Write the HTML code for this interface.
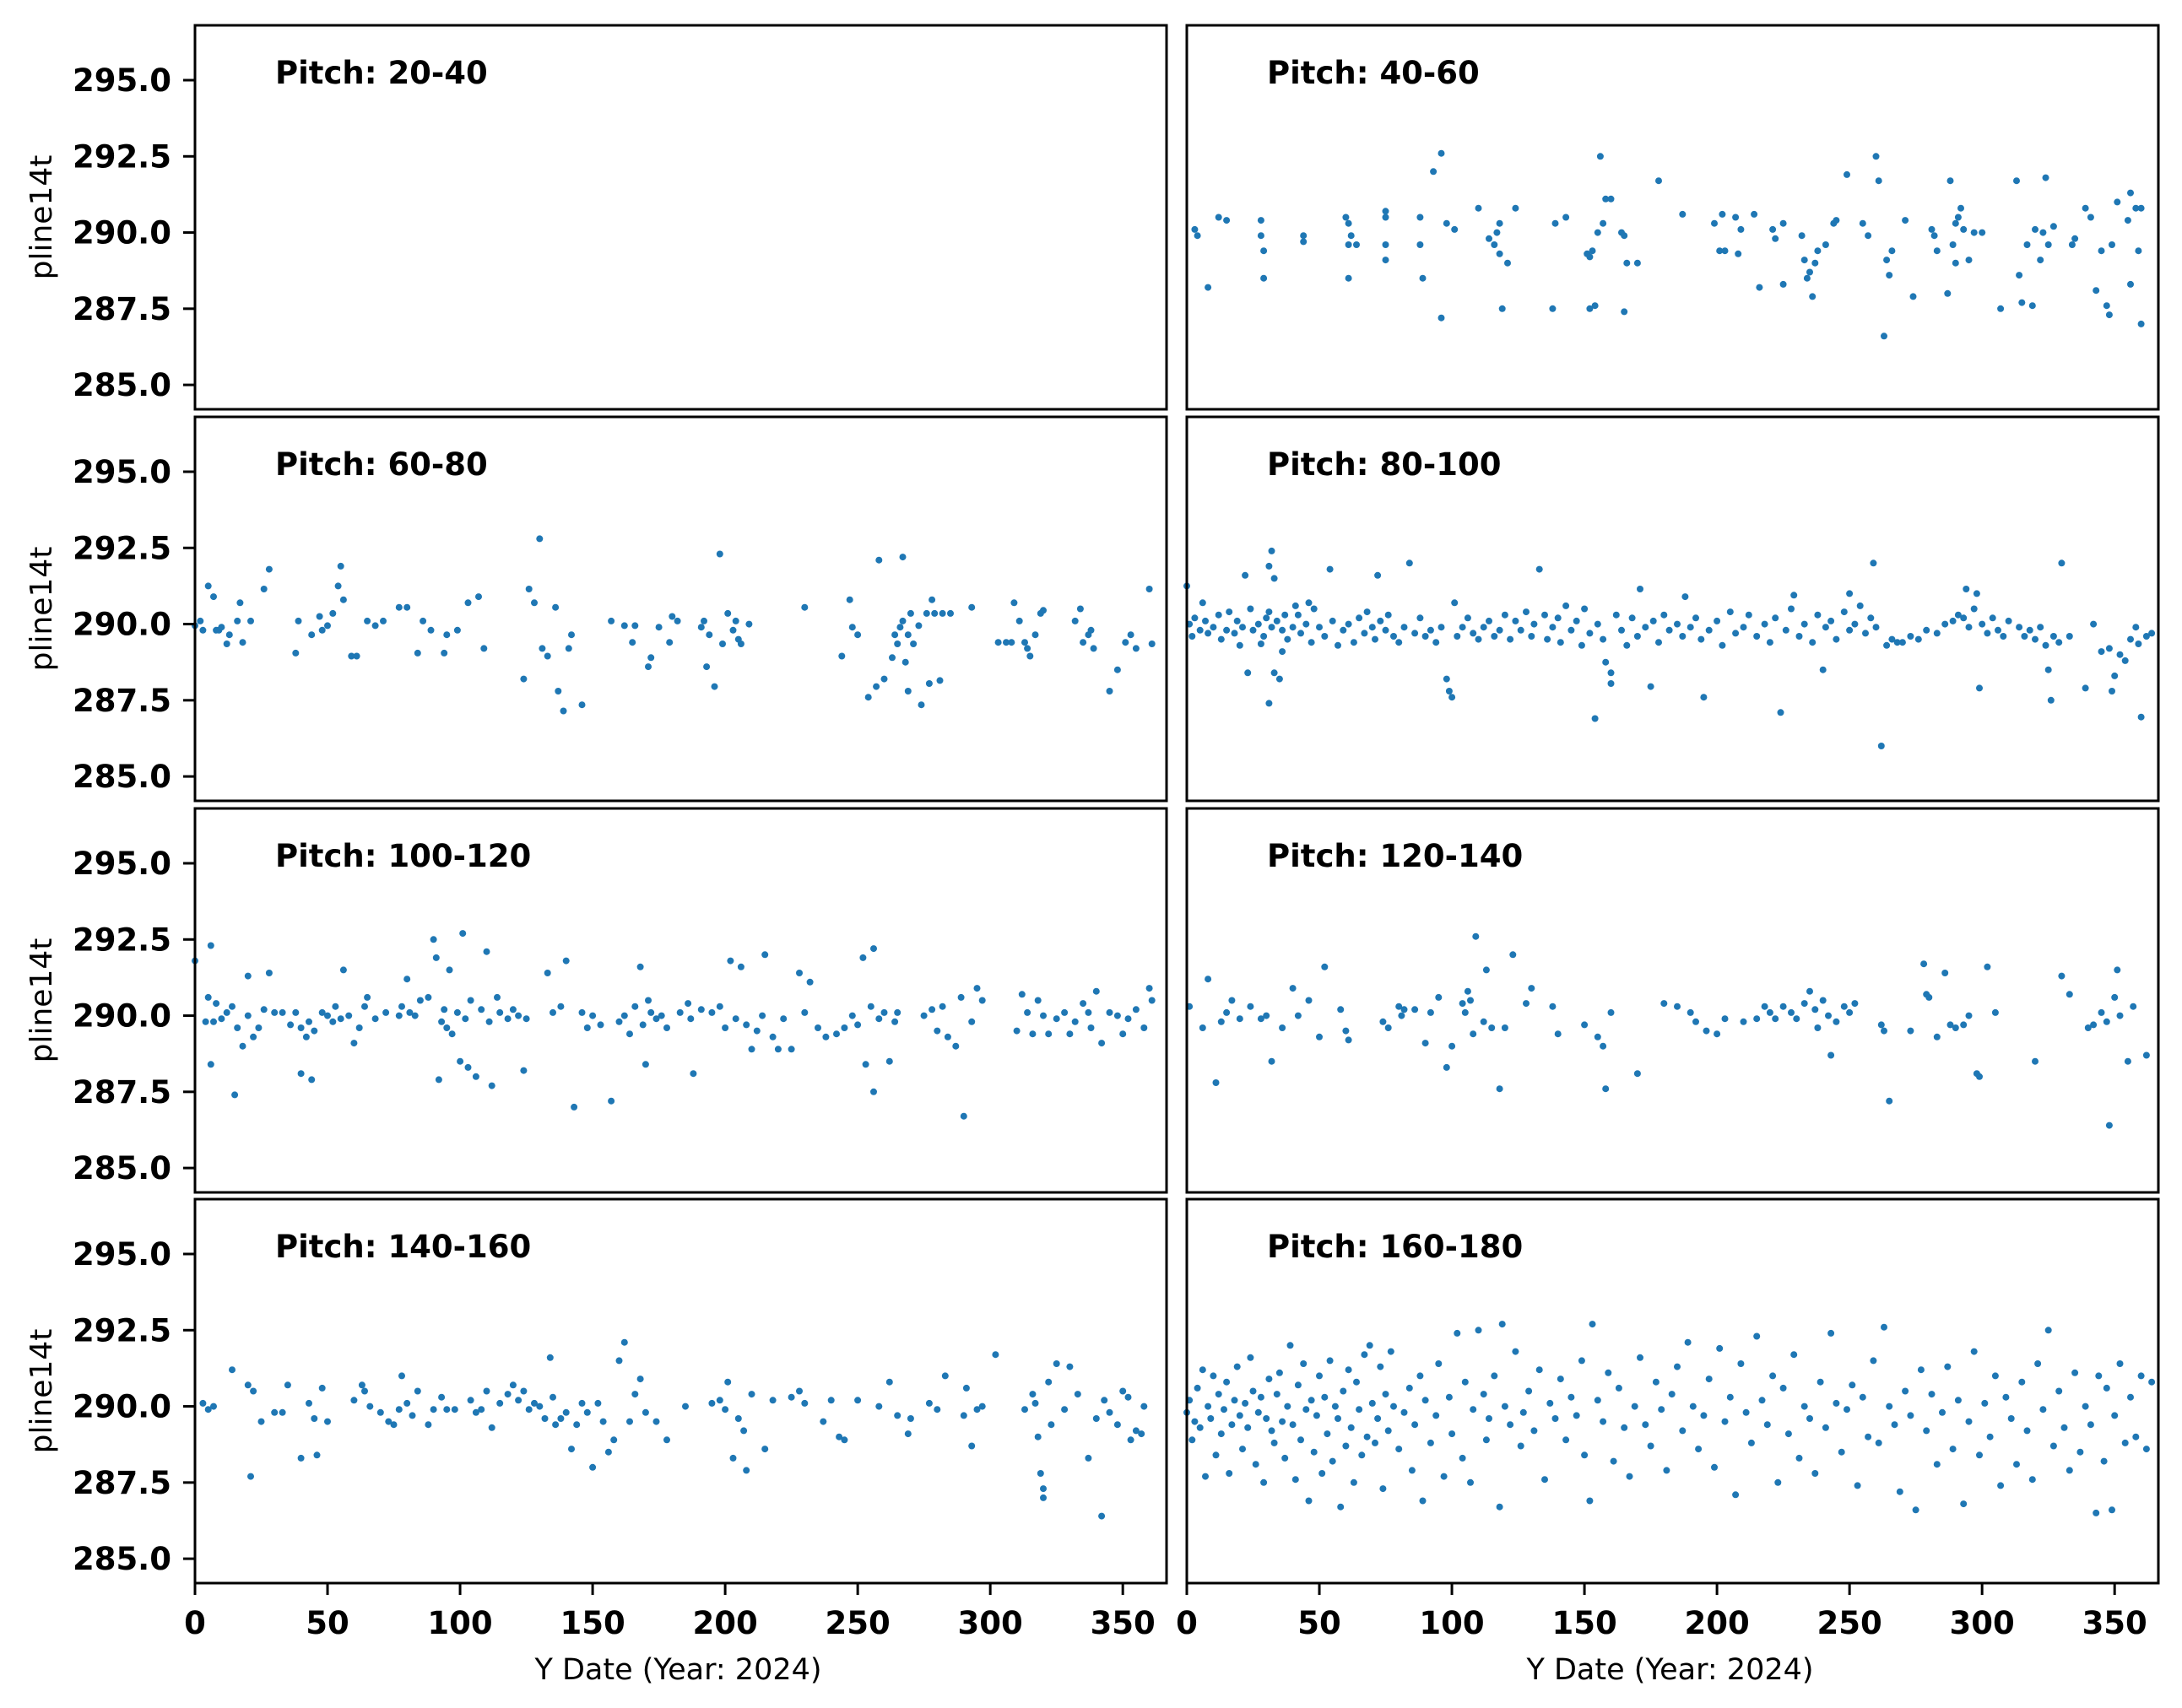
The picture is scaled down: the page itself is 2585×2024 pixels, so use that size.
<!DOCTYPE html>
<html><head><meta charset="utf-8">
<style>
html,body{margin:0;padding:0;background:#fff;}
svg{display:block;font-family:"DejaVu Sans","Liberation Sans",sans-serif;}
</style></head>
<body>
<svg id="chart" width="2585" height="2024" viewBox="0 0 2585 2024" xmlns="http://www.w3.org/2000/svg"></svg>
<script>
const panelTitles = ["Pitch: 20-40","Pitch: 40-60","Pitch: 60-80","Pitch: 80-100","Pitch: 100-120","Pitch: 120-140","Pitch: 140-160","Pitch: 160-180"];
const yTicks = [285.0, 287.5, 290.0, 292.5, 295.0];
const yTickLabels = ["285.0","287.5","290.0","292.5","295.0"];
const xTicks = [0,50,100,150,200,250,300,350];
const xTickLabels = ["0","50","100","150","200","250","300","350"];
const xDomain = [0, 366.5];
const yDomain = [284.2, 296.8];

const pts_20_40 = [];
const pts_40_60 = [[3,290.1],[4,289.9],[8,288.2],[12,290.5],[15,290.4],[28,290.4],[28,289.9],[29,289.4],[29,288.5],[44,289.9],[44,289.7],[60,290.5],[61,290.3],[61,289.6],[61,288.5],[62,289.9],[64,289.6],[75,290.7],[75,290.5],[75,289.6],[75,289.1],[88,290.5],[88,289.6],[89,288.5],[93,292.0],[96,292.6],[96,287.2],[98,290.3],[101,290.1],[110,290.8],[114,289.8],[116,289.6],[117,290.0],[118,290.3],[118,289.3],[119,287.5],[121,289.0],[124,290.8],[138,287.5],[139,290.3],[143,290.5],[151,289.3],[152,289.2],[153,289.4],[152,287.5],[154,287.6],[155,290.0],[156,292.5],[157,290.3],[158,291.1],[160,291.1],[164,290.0],[165,289.9],[165,287.4],[166,289.0],[170,289.0],[178,291.7],[187,290.6],[199,290.3],[201,289.4],[202,290.6],[203,289.4],[207,290.5],[208,289.3],[209,290.1],[214,290.6],[216,288.2],[221,290.1],[222,289.8],[225,290.3],[225,288.3],[232,289.9],[233,289.1],[234,288.5],[235,288.7],[236,287.9],[237,289.0],[238,289.4],[241,289.6],[244,290.3],[245,290.4],[249,291.9],[255,290.3],[257,289.9],[260,292.5],[261,291.7],[263,286.6],[264,289.1],[265,288.6],[266,289.4],[271,290.4],[274,287.9],[281,290.1],[282,289.9],[283,289.4],[287,288.0],[288,291.7],[289,289.6],[290,290.3],[290,289.0],[291,290.5],[292,290.8],[293,290.1],[295,289.1],[297,290.0],[300,290.0],[307,287.5],[313,291.7],[314,288.6],[315,287.7],[317,289.6],[319,287.6],[320,290.1],[322,289.1],[323,290.0],[324,291.8],[325,289.6],[327,290.2],[334,289.6],[335,289.8],[339,290.8],[341,290.5],[343,288.1],[345,289.4],[347,287.6],[348,287.3],[349,289.6],[351,291.0],[355,290.4],[356,291.3],[356,288.3],[358,290.8],[359,289.4],[360,287.0],[360,290.8]];
const pts_60_80 = [[0,289.95],[2,290.1],[3,289.8],[5,291.25],[7,290.9],[8,289.8],[9,289.8],[10,289.9],[12,289.35],[13,289.65],[16,290.1],[17,290.7],[18,289.4],[21,290.1],[26,291.15],[28,291.8],[38,289.05],[39,290.1],[44,289.65],[47,290.25],[48,289.8],[50,289.95],[52,290.35],[54,291.25],[55,291.9],[56,290.8],[59,288.95],[61,288.95],[65,290.1],[68,289.95],[71,290.1],[77,290.55],[80,290.55],[84,289.05],[86,290.1],[89,289.8],[94,289.05],[95,289.65],[99,289.8],[103,290.7],[107,290.9],[109,289.2],[124,288.2],[126,291.15],[128,290.7],[130,292.8],[131,289.2],[133,288.95],[136,290.55],[137,287.8],[139,287.15],[141,289.2],[142,289.65],[146,287.35],[157,290.1],[162,289.95],[165,289.4],[166,289.95],[171,288.6],[172,288.9],[175,289.9],[179,289.4],[180,290.25],[182,290.1],[191,289.9],[192,290.1],[193,288.6],[194,289.65],[196,287.95],[198,292.3],[199,289.35],[201,290.35],[203,289.8],[204,290.1],[205,289.5],[206,289.35],[209,290.0],[230,290.55],[244,288.95],[247,290.8],[248,289.9],[250,289.65],[254,287.6],[258,292.1],[257,287.95],[260,288.2],[263,288.9],[264,289.65],[265,289.35],[266,289.9],[267,290.1],[267,292.2],[268,288.75],[269,287.8],[269,289.65],[270,290.35],[271,289.35],[273,289.95],[274,287.35],[276,290.35],[277,288.05],[278,290.8],[279,290.35],[281,288.15],[282,290.35],[285,290.35],[293,290.55],[303,289.4],[306,289.4],[308,289.4],[309,290.7],[311,290.1],[313,289.4],[314,289.2],[315,288.95],[317,289.65],[319,290.35],[320,290.45],[332,290.1],[334,290.5],[335,289.4],[337,289.65],[338,289.8],[339,289.2],[345,287.8],[348,288.5],[351,289.4],[353,289.65],[355,289.2],[360,291.15],[361,289.35]];
const pts_80_100 = [[0,291.25],[6,290.7],[22,291.6],[23,288.4],[28,289.35],[31,291.9],[31,287.4],[32,292.4],[33,291.5],[33,288.4],[35,288.2],[36,289.1],[42,290.3],[46,290.7],[54,291.8],[72,291.6],[84,292.0],[98,288.2],[99,287.8],[100,287.6],[101,290.7],[133,291.8],[158,288.75],[160,288.4],[160,288.05],[154,286.9],[171,291.15],[175,287.95],[188,290.9],[195,287.6],[224,287.1],[229,290.95],[240,288.5],[250,291.0],[259,292.0],[262,286.0],[268,289.4],[294,291.15],[299,287.9],[298,291.0],[325,288.5],[326,287.5],[330,292.0],[339,287.9],[349,287.8],[350,288.3],[360,286.95],[354,288.8],[358,289.9],[364,289.7],[359,289.35],
[1,290.0],[2,289.6],[3,290.2],[5,289.8],[7,290.1],[8,289.7],[10,289.9],[12,290.3],[13,289.5],[15,289.8],[16,290.4],[18,289.7],[19,290.1],[20,289.3],[21,289.9],[24,290.5],[25,289.8],[27,290.0],[29,289.6],[30,290.2],[31,290.4],[32,289.9],[34,290.1],[36,289.8],[37,290.3],[38,289.5],[40,289.9],[41,290.6],[43,289.7],[45,290.0],[47,289.4],[48,290.5],[50,289.9],[52,289.6],[55,290.1],[57,289.3],[59,289.8],[61,290.0],[63,289.4],[65,290.2],[67,289.7],[68,290.4],[70,289.9],[71,289.5],[73,290.1],[75,289.8],[76,290.3],[78,289.6],[80,289.4],[82,289.9],[86,289.7],[88,290.2],[90,289.6],[92,289.8],[94,289.4],[96,289.9],[102,289.6],[104,289.9],[106,290.2],[108,289.7],[110,289.5],[112,289.9],[114,290.1],[116,289.6],[118,289.8],[120,290.3],[122,289.5],[124,290.1],[126,289.8],[128,290.4],[130,289.6],[131,290.0],[135,290.3],[136,289.5],[138,289.9],[140,290.2],[141,289.4],[143,290.6],[145,289.8],[147,290.1],[149,289.3],[150,290.5],[152,289.7],[155,290.0],[157,289.5],[162,290.3],[164,289.8],[166,289.3],[168,290.2],[170,289.6],[173,289.9],[176,290.1],[178,289.4],[180,290.3],[182,289.8],[185,290.0],[187,289.6],[190,289.9],[192,290.2],[194,289.5],[197,289.8],[200,290.1],[202,289.3],[205,290.4],[207,289.7],[210,289.9],[212,290.3],[215,289.6],[218,290.0],[220,289.4],[222,290.2],[226,289.8],[228,290.5],[231,289.6],[233,290.0],[236,289.4],[238,290.3],[241,289.9],[243,290.1],[245,289.5],[248,290.4],[250,289.8],[252,290.0],[254,290.6],[256,289.7],[258,290.2],[260,289.9],[264,289.3],[266,289.5],[270,289.4],[273,289.6],[276,289.5],[279,289.8],[283,289.7],[286,290.0],[289,290.1],[291,290.3],[293,290.2],[295,289.9],[297,290.5],[300,290.0],[302,289.7],[304,290.2],[306,289.8],[308,289.6],[310,290.1],[314,289.9],[316,289.6],[318,289.8],[320,289.5],[322,289.9],[324,289.3],[327,289.6],[329,289.4],[333,289.6],[342,290.0],[345,289.1],[348,289.2],[352,289.0],[356,289.5],[362,289.6]];
const pts_100_120 = [[0,291.8],[4,289.8],[5,290.6],[6,292.3],[6,288.4],[7,289.8],[8,290.4],[10,289.9],[12,290.1],[14,290.3],[15,287.4],[16,289.6],[18,289.0],[20,290.0],[20,291.3],[22,289.3],[24,289.6],[26,290.2],[28,291.4],[30,290.1],[33,290.1],[36,289.7],[38,290.1],[40,289.6],[40,288.1],[42,289.3],[43,289.8],[44,287.9],[45,289.5],[48,290.1],[50,290.0],[52,289.8],[53,290.3],[55,289.9],[56,291.5],[58,290.0],[60,289.1],[62,289.6],[64,290.3],[65,290.6],[68,289.9],[72,290.1],[77,290.0],[78,290.3],[80,291.2],[81,290.1],[83,290.0],[85,290.5],[88,290.6],[90,292.5],[91,291.9],[92,287.9],[93,289.8],[94,290.2],[95,289.6],[96,291.5],[97,289.4],[99,290.1],[100,288.5],[101,292.7],[102,289.9],[103,288.3],[104,290.5],[106,288.0],[108,290.2],[110,292.1],[111,289.8],[112,287.7],[114,290.6],[115,290.1],[118,289.9],[120,290.2],[122,290.0],[124,288.2],[125,289.9],[133,291.4],[135,290.1],[138,290.3],[140,291.8],[143,287.0],[146,290.1],[148,289.6],[150,290.0],[153,289.7],[157,287.2],[160,289.8],[162,290.0],[164,289.4],[166,290.3],[168,291.6],[169,289.7],[170,288.4],[171,290.5],[172,290.1],[174,289.9],[176,290.0],[178,289.6],[183,290.1],[186,290.4],[187,289.9],[188,288.1],[191,290.2],[195,290.1],[198,290.3],[200,289.6],[202,291.8],[204,289.9],[206,291.6],[208,289.7],[210,288.9],[212,289.5],[214,290.0],[215,292.0],[218,289.3],[220,288.9],[222,289.9],[225,288.9],[228,291.4],[230,290.1],[232,291.1],[235,289.6],[238,289.3],[242,289.4],[245,289.6],[248,290.0],[250,289.7],[252,291.9],[253,288.4],[255,290.3],[256,292.2],[256,287.5],[258,289.9],[260,290.1],[262,288.5],[264,289.8],[265,290.1],[275,290.0],[278,290.2],[280,289.5],[282,290.3],[284,289.3],[287,289.0],[289,290.6],[290,286.7],[293,289.8],[295,290.9],[297,290.5],[310,289.5],[312,290.7],[314,290.1],[316,289.4],[318,290.5],[320,290.0],[322,289.4],[325,289.9],[328,290.1],[330,289.4],[332,289.8],[335,290.4],[337,290.1],[338,289.6],[340,290.8],[342,289.1],[345,290.1],[348,290.0],[350,289.4],[352,289.9],[355,290.2],[358,289.6],[360,290.9],[361,290.5]];
const pts_120_140 = [[1,290.3],[6,289.6],[8,291.2],[11,287.8],[13,289.8],[15,290.1],[17,290.5],[20,289.9],[24,290.3],[28,289.9],[30,290.0],[32,288.5],[36,289.6],[40,290.9],[42,290.0],[46,290.5],[50,289.3],[52,291.6],[58,290.2],[60,289.5],[61,289.2],[74,289.8],[76,289.6],[80,290.3],[81,290.0],[82,290.2],[86,290.2],[90,289.1],[92,290.1],[95,290.6],[98,288.3],[100,289.0],[104,290.4],[105,290.1],[106,290.8],[107,290.5],[108,289.4],[109,292.6],[112,289.8],[113,291.5],[115,289.6],[118,287.6],[120,289.6],[123,292.0],[128,290.4],[130,290.9],[138,290.3],[140,289.4],[150,289.7],[155,289.3],[157,289.0],[158,287.6],[160,290.1],[170,288.1],[180,290.4],[185,290.3],[190,290.1],[192,289.8],[196,289.5],[200,289.4],[203,289.9],[210,289.8],[215,289.9],[218,290.3],[220,290.1],[222,289.9],[225,290.3],[228,290.1],[230,289.9],[233,290.4],[235,290.8],[237,290.2],[238,289.6],[240,290.5],[242,290.0],[243,288.7],[245,289.8],[248,290.3],[250,290.1],[252,290.4],[262,289.7],[263,289.5],[265,287.2],[273,289.5],[278,291.7],[279,290.7],[280,290.6],[283,289.3],[286,291.4],[288,289.7],[290,289.6],[293,289.7],[295,290.0],[298,288.1],[299,288.0],[302,291.6],[305,290.1],[320,288.5],[330,291.3],[333,290.7],[340,289.6],[342,289.7],[345,290.1],[347,289.8],[348,286.4],[350,290.6],[351,291.5],[352,290.0],[355,288.5],[357,290.3],[362,288.7]];
const pts_140_160 = [[3,290.1],[5,289.9],[7,290.0],[14,291.2],[20,290.7],[21,287.7],[22,290.5],[25,289.5],[30,289.8],[33,289.8],[35,290.7],[40,288.3],[43,290.1],[45,289.6],[46,288.4],[48,290.6],[50,289.5],[60,290.2],[63,290.7],[64,290.5],[66,290.0],[70,289.8],[73,289.5],[75,289.4],[77,289.9],[78,291.0],[80,290.1],[82,289.7],[84,290.5],[88,289.4],[90,289.9],[93,290.3],[95,289.9],[98,289.9],[104,290.2],[106,289.8],[108,289.9],[110,290.5],[112,289.3],[115,290.1],[118,290.4],[120,290.7],[122,290.2],[124,290.5],[126,289.9],[128,290.1],[130,290.0],[132,289.6],[134,291.6],[135,290.3],[136,289.4],[138,289.6],[140,289.8],[142,288.6],[144,289.4],[146,290.1],[148,289.8],[150,288.0],[152,290.1],[154,289.5],[156,288.5],[158,288.9],[160,291.5],[162,292.1],[164,289.5],[166,290.4],[168,290.9],[170,289.8],[174,289.5],[178,288.9],[185,290.0],[195,290.1],[198,290.2],[200,289.9],[201,290.8],[203,288.3],[205,289.6],[207,289.2],[208,287.9],[210,290.4],[215,288.6],[218,290.2],[225,290.3],[228,290.5],[230,290.1],[237,289.5],[240,290.2],[243,289.0],[245,288.9],[250,290.2],[258,290.0],[262,290.8],[265,289.7],[269,289.1],[270,289.6],[277,290.1],[280,289.9],[283,291.0],[290,289.7],[291,290.6],[293,288.7],[295,289.9],[297,290.0],[302,291.7],[313,289.9],[316,290.4],[317,290.1],[318,289.0],[319,287.8],[320,287.3],[320,287.0],[322,290.8],[323,289.4],[325,291.4],[328,289.9],[330,291.3],[333,290.4],[337,288.3],[340,289.6],[342,286.4],[343,290.2],[345,289.8],[348,289.4],[350,290.5],[352,290.3],[353,288.9],[355,289.2],[357,289.1],[358,290.0]];
const pts_160_180 = [[0,289.8],[1,290.2],[2,288.9],[3,289.5],[4,290.6],[5,289.3],[6,291.2],[7,287.7],[8,290.0],[9,289.6],[10,291.0],[11,288.4],[12,290.4],[13,289.1],[14,289.9],[15,290.8],[16,287.8],[17,289.4],[18,290.2],[19,291.3],[20,289.7],[21,288.6],[22,290.1],[23,289.3],[24,291.6],[25,290.5],[26,288.1],[27,289.8],[28,290.3],[29,287.5],[30,289.6],[31,290.9],[32,289.2],[33,288.8],[34,290.4],[35,291.1],[36,289.5],[37,288.3],[38,290.0],[39,292.0],[40,289.4],[41,287.6],[42,290.7],[43,288.9],[44,291.4],[45,289.9],[46,286.9],[47,290.2],[48,288.5],[49,289.7],[50,291.0],[51,287.8],[52,290.3],[53,289.1],[54,291.5],[55,288.2],[56,290.0],[57,289.6],[58,286.7],[59,290.5],[60,288.7],[61,291.2],[62,289.3],[63,287.5],[64,290.8],[65,289.9],[66,288.4],[67,291.7],[68,289.0],[69,292.0],[70,290.1],[71,288.8],[72,289.6],[73,291.3],[74,287.3],[75,290.4],[76,289.2],[77,291.8],[78,290.0],[80,288.6],[82,289.8],[84,290.6],[85,287.9],[86,289.4],[88,291.0],[89,286.9],[90,290.2],[92,288.8],[94,289.7],[95,291.4],[97,287.7],[99,290.3],[100,289.1],[102,292.4],[104,288.3],[105,290.8],[107,287.5],[108,289.9],[110,292.5],[112,290.4],[113,288.9],[114,289.6],[116,291.0],[118,286.7],[119,292.7],[120,290.0],[122,289.4],[124,291.8],[126,288.7],[127,289.8],[129,290.5],[131,289.2],[133,291.2],[135,287.6],[137,290.1],[139,289.6],[141,290.9],[143,288.9],[145,290.3],[147,289.7],[149,291.5],[150,288.4],[152,286.9],[153,292.7],[155,290.2],[157,289.5],[159,291.1],[161,288.2],[163,290.6],[165,289.3],[167,287.7],[169,290.0],[171,291.6],[173,289.4],[175,288.7],[177,290.8],[179,289.9],[181,287.9],[183,290.4],[185,291.3],[187,289.2],[189,292.1],[191,290.0],[193,288.6],[195,289.7],[197,290.9],[199,288.0],[201,291.9],[203,289.5],[205,290.3],[207,287.1],[209,291.4],[211,289.8],[213,288.8],[215,292.3],[217,290.2],[219,289.4],[221,291.0],[223,287.5],[225,290.6],[227,289.1],[229,291.7],[231,288.3],[233,290.0],[235,289.6],[237,287.8],[239,290.8],[241,289.3],[243,292.4],[245,290.1],[247,288.5],[249,289.9],[251,290.7],[253,287.4],[255,290.3],[257,289.0],[259,291.5],[261,288.8],[263,292.6],[265,290.0],[267,289.4],[269,287.2],[271,290.5],[273,289.7],[275,286.6],[277,291.2],[279,289.2],[281,290.4],[283,288.1],[285,289.8],[287,291.3],[289,288.6],[291,290.2],[293,286.8],[295,289.5],[297,291.8],[299,288.4],[301,290.1],[303,289.0],[305,291.0],[307,287.4],[309,290.3],[311,289.6],[313,288.1],[315,290.8],[317,289.2],[319,287.6],[321,291.4],[323,289.9],[325,292.5],[327,288.7],[329,290.5],[331,289.3],[333,287.9],[335,291.1],[337,288.5],[339,290.0],[341,289.4],[343,286.5],[344,291.0],[346,288.2],[347,290.6],[349,286.6],[350,289.7],[352,291.4],[354,288.8],[356,290.3],[358,289.0],[360,291.0],[362,288.6],[364,290.8]];
const panelData = [pts_20_40, pts_40_60, pts_60_80, pts_80_100, pts_100_120, pts_120_140, pts_140_160, pts_160_180];

const NS = "http://www.w3.org/2000/svg";
const svg = document.getElementById("chart");
const colLeft = [231, 1406], panelW = 1151;
const rowTop = [30, 494, 958, 1421], panelH = 455;
function mk(tag, attrs, parent){ const e=document.createElementNS(NS,tag); for(const k in attrs) e.setAttribute(k,attrs[k]); parent.appendChild(e); return e; }

panelTitles.forEach((title, i) => {
  const col = i % 2, row = Math.floor(i / 2);
  const x0 = colLeft[col], y0 = rowTop[row];
  const xs = v => x0 + (v - xDomain[0]) / (xDomain[1] - xDomain[0]) * panelW;
  const ys = v => y0 + panelH - (v - yDomain[0]) / (yDomain[1] - yDomain[0]) * panelH;
  const g = mk("g", {}, svg);
  
  
  panelData[i].forEach(p => {
    const c = mk("circle", {cx: xs(p[0]).toFixed(1), cy: ys(p[1]).toFixed(1), r: 4, fill: "#1f77b4"}, g);
    
    
  });
  const frame = mk("rect", {x: x0, y: y0, width: panelW, height: panelH, fill: "none", stroke: "#000", "stroke-width": 3}, g);
  
  
  const t = mk("text", {x: x0 + 95, y: y0 + 69, "font-size": 37, "font-weight": "bold", fill: "#000"}, g);
  t.textContent = title;
  
  
  if (col === 0) {
    yTicks.forEach((v, k) => {
      mk("line", {x1: x0 - 14, x2: x0, y1: ys(v), y2: ys(v), stroke: "#000", "stroke-width": 3}, g);
      const lt = mk("text", {x: x0 - 28, y: ys(v) + 13, "font-size": 37, "font-weight": "bold", "text-anchor": "end"}, g);
      lt.textContent = yTickLabels[k];
      
      
    });
    const yl = mk("text", {x: 0, y: 0, "font-size": 36, "text-anchor": "middle", transform: `translate(61,${y0 + panelH/2}) rotate(-90)`}, g);
    yl.textContent = "pline14t";
    
    
  }
  if (row === 3) {
    xTicks.forEach((v, k) => {
      mk("line", {x1: xs(v), x2: xs(v), y1: y0 + panelH, y2: y0 + panelH + 14, stroke: "#000", "stroke-width": 3}, g);
      const lt = mk("text", {x: xs(v), y: 1936, "font-size": 37, "font-weight": "bold", "text-anchor": "middle"}, g);
      lt.textContent = xTickLabels[k];
      
      
    });
    const xl = mk("text", {x: x0 + panelW/2 - 3, y: 1990, "font-size": 35, "text-anchor": "middle"}, g);
    xl.textContent = "Y Date (Year: 2024)";
    
    
  }
});
</script>
</body></html>
